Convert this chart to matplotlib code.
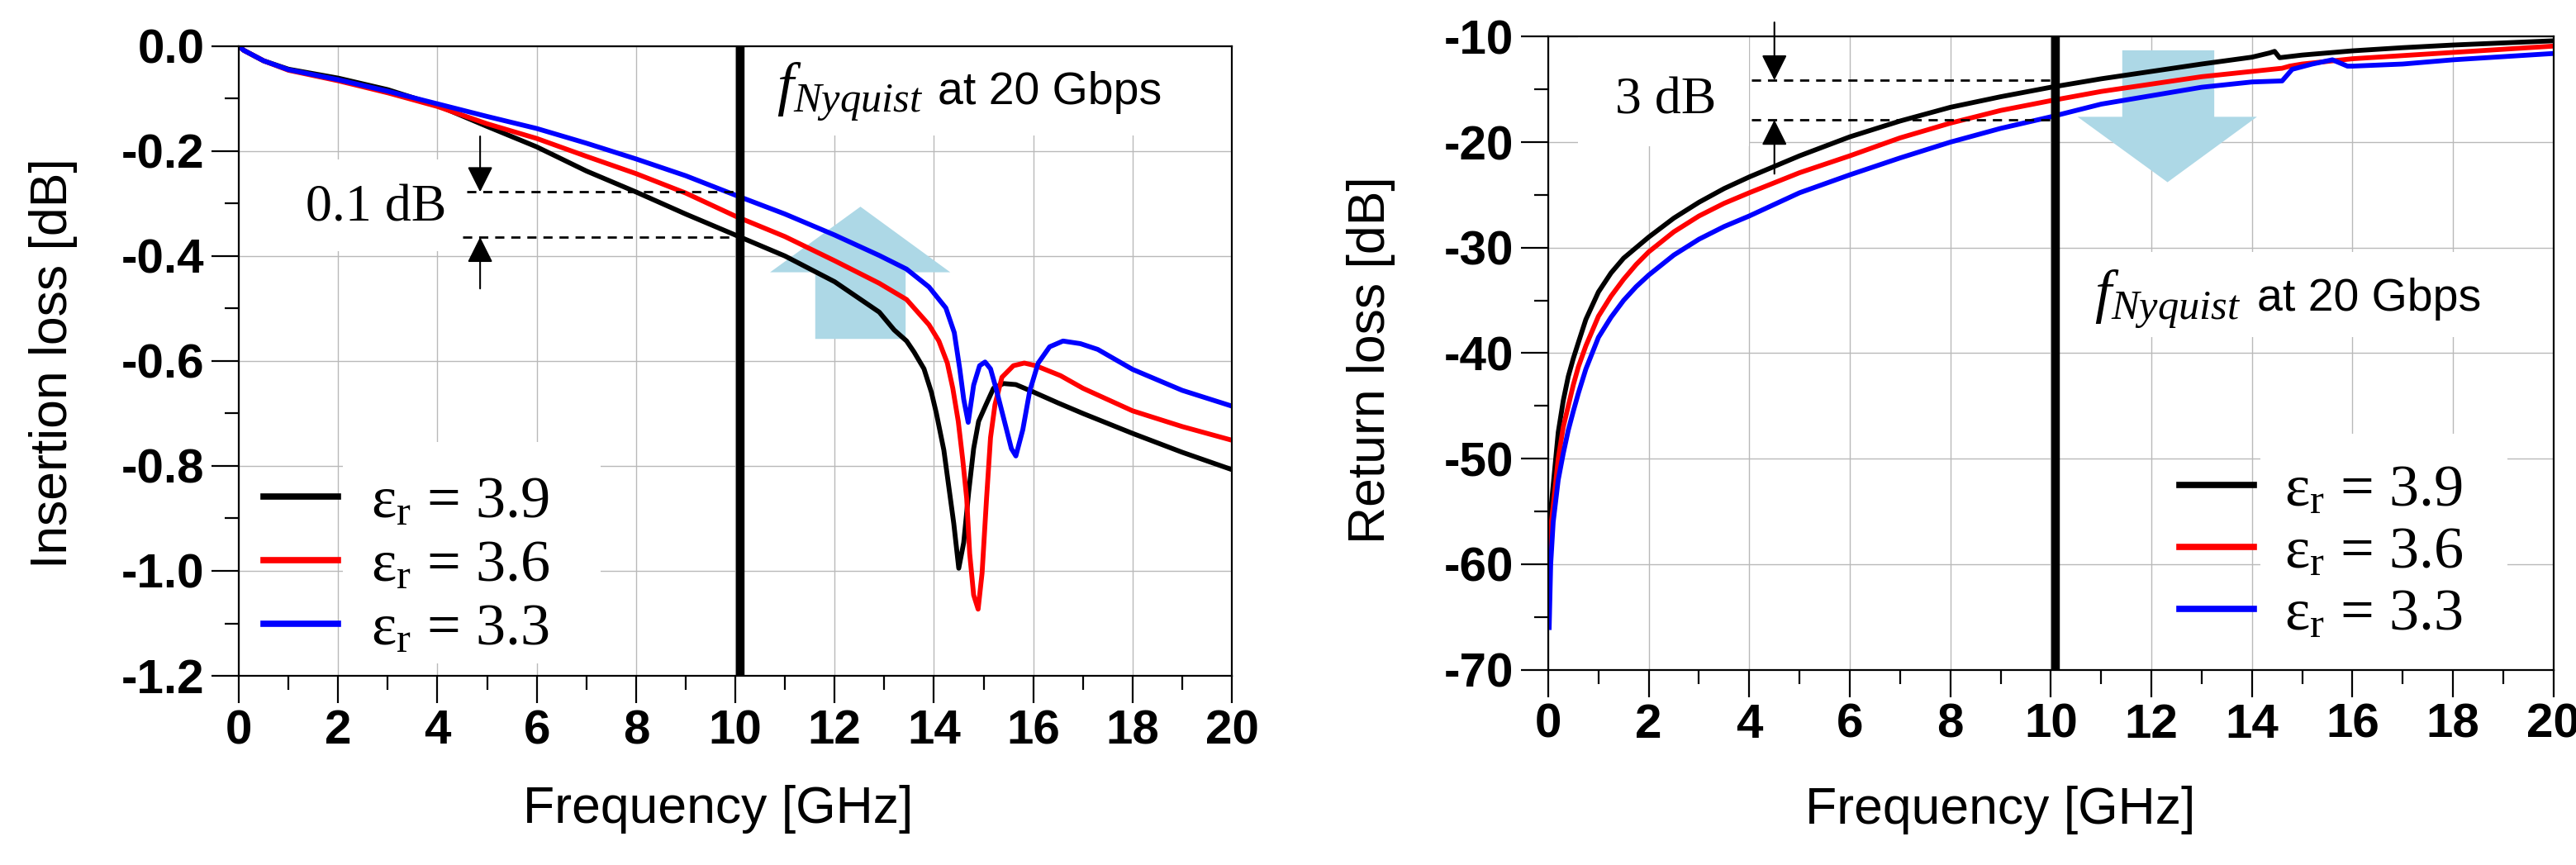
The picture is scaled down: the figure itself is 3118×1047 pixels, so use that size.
import numpy as np
import matplotlib
matplotlib.use('Agg')
import matplotlib.pyplot as plt
from matplotlib.ticker import MultipleLocator, FuncFormatter
from matplotlib.patches import Rectangle, Polygon

plt.rcParams['font.family'] = 'Liberation Sans'
plt.rcParams['axes.unicode_minus'] = False
plt.rcParams['mathtext.fontset'] = 'custom'
plt.rcParams['mathtext.rm'] = 'Liberation Serif'
plt.rcParams['mathtext.it'] = 'Liberation Serif:italic'

# ---- insertion loss data (dB) ----
f_il_39 = [0, 0.1, 0.3, 0.5, 1, 2, 3, 4, 5, 6, 7, 8, 9, 10, 11, 12, 12.9, 13.2, 13.45,
           13.6, 13.8, 13.95, 14.05, 14.2, 14.3, 14.4, 14.5, 14.6, 14.7, 14.8, 14.9,
           15.05, 15.2, 15.4, 15.65, 16, 16.5, 17, 18, 19, 20]
il_39 = [0, -0.008, -0.018, -0.028, -0.044, -0.061, -0.083, -0.113, -0.153, -0.192,
         -0.238, -0.278, -0.32, -0.36, -0.40, -0.449, -0.507, -0.541, -0.562,
         -0.583, -0.615, -0.66, -0.70, -0.77, -0.84, -0.91, -0.995, -0.946, -0.85,
         -0.767, -0.715, -0.683, -0.652, -0.643, -0.645, -0.659, -0.68, -0.70,
         -0.738, -0.774, -0.807]

f_il_36 = [0, 0.1, 0.3, 0.5, 1, 2, 3, 4, 5, 6, 7, 8, 9, 10, 11, 12, 12.9, 13.45, 13.9,
           14.1, 14.27, 14.38, 14.49, 14.58, 14.66, 14.72, 14.8, 14.89, 14.97, 15.06,
           15.14, 15.23, 15.37, 15.6, 15.82, 16.05, 16.55, 17, 18, 19, 20]
il_36 = [0, -0.008, -0.018, -0.028, -0.046, -0.066, -0.089, -0.115, -0.148, -0.176,
         -0.21, -0.243, -0.28, -0.324, -0.363, -0.409, -0.452, -0.483, -0.531,
         -0.562, -0.604, -0.652, -0.715, -0.788, -0.862, -0.967, -1.046, -1.073,
         -1.004, -0.862, -0.746, -0.683, -0.631, -0.609, -0.604, -0.609, -0.628,
         -0.652, -0.695, -0.725, -0.751]

f_il_33 = [0, 0.1, 0.3, 0.5, 1, 2, 3, 4, 5, 6, 7, 8, 9, 10, 11, 12, 12.9, 13.45, 13.9,
           14.24, 14.41, 14.52, 14.6, 14.69, 14.8, 14.92, 15.03, 15.14, 15.25, 15.42,
           15.56, 15.65, 15.79, 15.93, 16.1, 16.33, 16.6, 16.95, 17.3, 18, 19, 20]
il_33 = [0, -0.008, -0.018, -0.028, -0.045, -0.064, -0.086, -0.11, -0.134, -0.157,
         -0.185, -0.215, -0.247, -0.284, -0.32, -0.36, -0.399, -0.425, -0.459,
         -0.499, -0.546, -0.615, -0.673, -0.717, -0.646, -0.609, -0.602, -0.615,
         -0.652, -0.715, -0.767, -0.781, -0.731, -0.657, -0.604, -0.573, -0.562,
         -0.567, -0.578, -0.616, -0.656, -0.686]

# ---- return loss data (dB) ----
f_rl_39 = [0.02, 0.05, 0.1, 0.15, 0.2, 0.3, 0.4, 0.5, 0.6, 0.75, 1, 1.25, 1.5, 1.75, 2,
           2.5, 3, 3.5, 4, 5, 6, 7, 8, 9, 10, 11, 12, 13, 14, 14.35, 14.45, 14.55,
           15, 16, 17, 18, 19, 20]
rl_39 = [-57, -55, -52.5, -50, -47.5, -44.5, -42.2, -40.5, -39.0, -36.8, -34.2, -32.4,
         -31.0, -30.0, -29.0, -27.2, -25.7, -24.4, -23.3, -21.3, -19.5, -18.0, -16.7,
         -15.7, -14.8, -14.0, -13.3, -12.6, -11.95, -11.55, -11.4, -12.0, -11.75,
         -11.35, -11.05, -10.8, -10.6, -10.4]

f_rl_36 = [0.02, 0.05, 0.1, 0.2, 0.3, 0.4, 0.5, 0.6, 0.75, 1, 1.25, 1.5, 1.75, 2, 2.5, 3,
           3.5, 4, 5, 6, 7, 8, 9, 10, 11, 12, 13, 14, 14.6, 14.75, 15, 16, 17, 18, 19, 20]
rl_36 = [-58.5, -56.5, -54.5, -50, -47, -45, -43, -41.3, -39.3, -36.5, -34.6, -33.0,
         -31.6, -30.4, -28.5, -27.0, -25.8, -24.8, -22.9, -21.3, -19.6, -18.2, -17.0,
         -16.07, -15.2, -14.5, -13.8, -13.3, -13.0, -12.8, -12.6, -12.1, -11.8, -11.5,
         -11.2, -10.9]

f_rl_33 = [0.02, 0.05, 0.1, 0.2, 0.3, 0.4, 0.5, 0.6, 0.75, 1, 1.25, 1.5, 1.75, 2, 2.5, 3,
           3.5, 4, 5, 6, 7, 8, 9, 10, 11, 12, 13, 14, 14.6, 14.8, 15.2, 15.6, 15.9, 16,
           17, 18, 19, 20]
rl_33 = [-66, -60, -56, -52, -49.5, -47.3, -45.5, -43.8, -41.5, -38.5, -36.6, -35.0,
         -33.7, -32.6, -30.7, -29.2, -28.0, -27.0, -24.8, -23.1, -21.5, -20.0, -18.7,
         -17.6, -16.4, -15.6, -14.8, -14.3, -14.2, -13.1, -12.6, -12.2, -12.8, -12.8,
         -12.6, -12.2, -11.9, -11.6]

labels = ['ε$_\\mathrm{r}$ = 3.9', 'ε$_\\mathrm{r}$ = 3.6', 'ε$_\\mathrm{r}$ = 3.3']
colors = ['black', 'red', 'blue']

fig = plt.figure(figsize=(31.18, 10.47), dpi=100)
ax1 = fig.add_axes([0.0927, 0.2187, 0.3855, 0.728])
ax2 = fig.add_axes([0.601, 0.2257, 0.3903, 0.732])

def style_axis(ax):
    ax.set_axisbelow(True)
    ax.grid(True, which='major', color='#b9b9b9', lw=1.0)
    ax.xaxis.set_major_locator(MultipleLocator(2))
    ax.xaxis.set_minor_locator(MultipleLocator(1))
    ax.tick_params(which='major', direction='out', length=24, width=1.6,
                   labelsize=42, pad=5)
    ax.tick_params(axis='y', which='major', pad=6)
    ax.tick_params(which='minor', direction='out', length=12, width=1.6)
    for sp in ax.spines.values():
        sp.set_linewidth(1.6)
    ax.set_xlim(0, 20)
    ax.set_xlabel('Frequency [GHz]', fontsize=45)
    ax.xaxis.label.set_va('center')

def bold_ticks(ax):
    for lab in ax.get_xticklabels() + ax.get_yticklabels():
        lab.set_fontweight('bold')

def wbox(ax, x0, x1, y0, y1):
    ax.add_patch(Rectangle((x0, y0), x1 - x0, y1 - y0, facecolor='white',
                           edgecolor='none', zorder=1))

def varrow(ax, x, y_from, y_to):
    ax.annotate('', xy=(x, y_to), xytext=(x, y_from), annotation_clip=False,
                arrowprops=dict(arrowstyle='-|>', color='black', lw=1.5,
                                mutation_scale=48, shrinkA=0, shrinkB=0))

def nyquist(ax, x_f, x_at, y):
    ax.text(x_f, y, '$f_{Nyquist}$', fontsize=52, ha='left', va='center', zorder=4)
    ax.text(x_at, y, 'at 20 Gbps', fontsize=40, ha='left', va='center', zorder=4)

# ---------------- insertion loss ----------------
style_axis(ax1)
ax1.set_ylim(-1.2, 0)
ax1.yaxis.set_major_locator(MultipleLocator(0.2))
ax1.yaxis.set_minor_locator(MultipleLocator(0.1))
ax1.yaxis.set_major_formatter(FuncFormatter(lambda v, p: '0.0' if abs(v) < 1e-9 else '%.1f' % v))
bold_ticks(ax1)
ax1.set_ylabel('Insertion loss [dB]', fontsize=45)
ax1.yaxis.label.set_va('center')
ax1.yaxis.set_label_coords(-0.1864, 0.496)
ax1.xaxis.set_label_coords(0.4825, -0.2125)

ax1.add_patch(Polygon([(11.61, -0.558), (13.43, -0.558), (13.43, -0.431), (14.33, -0.431),
                       (12.52, -0.306), (10.70, -0.431), (11.61, -0.431)],
                      closed=True, facecolor='#add8e6', edgecolor='none', zorder=1.2))
wbox(ax1, 10.25, 20, -0.17, 0)
wbox(ax1, 0.3, 4.55, -0.39, -0.216)
wbox(ax1, 2.1, 7.29, -1.177, -0.754)

l1 = ax1.plot(f_il_39, il_39, color=colors[0], lw=4.2, zorder=2)
l2 = ax1.plot(f_il_36, il_36, color=colors[1], lw=4.2, zorder=2)
l3 = ax1.plot(f_il_33, il_33, color=colors[2], lw=4.2, zorder=2)
ax1.axvline(10.1, color='black', lw=7.5, zorder=3)
ax1.plot([4.59, 10.1], [-0.278, -0.278], color='black', lw=2, ls=(0, (4, 3)), zorder=3)
ax1.plot([4.51, 10.0], [-0.364, -0.364], color='black', lw=2, ls=(0, (4, 3)), zorder=3)
varrow(ax1, 4.86, -0.172, -0.278)
varrow(ax1, 4.86, -0.462, -0.364)
ax1.text(2.77, -0.309, '0.1 dB', family='Liberation Serif', fontsize=46,
         ha='center', va='center', zorder=4)
nyquist(ax1, 10.83, 14.08, -0.088)
leg1 = ax1.legend([l1[0], l2[0], l3[0]], labels, loc='upper left',
                  bbox_to_anchor=(0.025, 0.318), frameon=False, borderpad=0,
                  borderaxespad=0, handlelength=1.25, handletextpad=0.55,
                  labelspacing=0.16, prop={'family': 'Liberation Serif', 'size': 52})
for ln in leg1.get_lines():
    ln.set_linewidth(5.5)

# ---------------- return loss ----------------
style_axis(ax2)
ax2.set_ylim(-70, -10)
ax2.yaxis.set_major_locator(MultipleLocator(10))
ax2.yaxis.set_minor_locator(MultipleLocator(5))
ax2.yaxis.set_major_formatter(FuncFormatter(lambda v, p: '%d' % round(v)))
bold_ticks(ax2)
ax2.set_ylabel('Return loss [dB]', fontsize=45)
ax2.yaxis.label.set_va('center')
ax2.yaxis.set_label_coords(-0.176, 0.489)
ax2.xaxis.set_label_coords(0.45, -0.221)

ax2.add_patch(Polygon([(11.42, -11.3), (13.25, -11.3), (13.25, -17.6), (14.10, -17.6),
                       (12.32, -23.8), (10.53, -17.6), (11.42, -17.6)],
                      closed=True, facecolor='#add8e6', edgecolor='none', zorder=1.2))
wbox(ax2, 0.6, 4.0, -20.4, -10)
wbox(ax2, 10.6, 20, -38.5, -30.4)
wbox(ax2, 14.17, 19.08, -70, -47.6)

r1 = ax2.plot(f_rl_39, rl_39, color=colors[0], lw=4.2, zorder=2)
r2 = ax2.plot(f_rl_36, rl_36, color=colors[1], lw=4.2, zorder=2)
r3 = ax2.plot(f_rl_33, rl_33, color=colors[2], lw=4.2, zorder=2)
ax2.axvline(10.09, color='black', lw=7.5, zorder=3)
ax2.plot([4.04, 10.12], [-14.13, -14.13], color='black', lw=2, ls=(0, (4, 3)), zorder=3)
ax2.plot([4.04, 10.12], [-17.9, -17.9], color='black', lw=2, ls=(0, (4, 3)), zorder=3)
varrow(ax2, 4.5, -8.65, -14.13)
varrow(ax2, 4.5, -23.0, -17.9)
ax2.text(2.33, -16.1, '3 dB', family='Liberation Serif', fontsize=46,
         ha='center', va='center', zorder=4)
nyquist(ax2, 10.86, 14.1, -34.9)
leg2 = ax2.legend([r1[0], r2[0], r3[0]], labels, loc='upper left',
                  bbox_to_anchor=(0.628, 0.325), frameon=False, borderpad=0,
                  borderaxespad=0, handlelength=1.25, handletextpad=0.5,
                  labelspacing=0.13, prop={'family': 'Liberation Serif', 'size': 52})
for ln in leg2.get_lines():
    ln.set_linewidth(5.5)

fig.savefig('out.png', dpi=100)
